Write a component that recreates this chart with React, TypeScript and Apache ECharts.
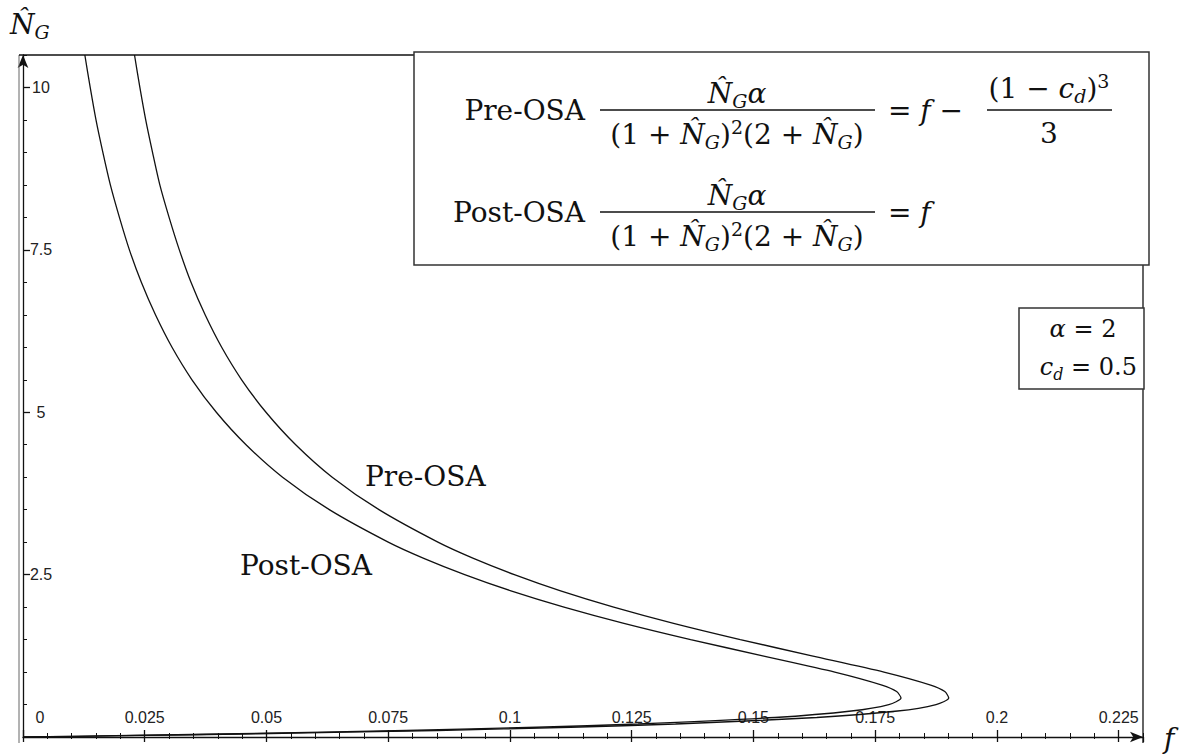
import { useEffect, useRef } from 'react';
import * as echarts from 'echarts';

// Data: N_G (vertical) against f (horizontal)
const nValues = [0, 0.02, 0.05, 0.1, 0.15, 0.2, 0.3, 0.4, 0.5, 0.6, 0.7, 0.8, 1.0, 1.25, 1.5, 1.75, 2, 2.25, 2.5, 2.75, 3, 3.5, 4, 4.5, 5, 5.5, 6, 6.5, 7, 7.5, 8, 8.5, 9, 9.5, 10, 10.5];
const postOsaF = [0, 0.019, 0.0442, 0.0787, 0.1055, 0.1263, 0.1544, 0.1701, 0.1778, 0.1803, 0.1794, 0.1764, 0.1667, 0.1519, 0.1371, 0.1234, 0.1111, 0.1002, 0.0907, 0.0823, 0.075, 0.0629, 0.0533, 0.0458, 0.0397, 0.0347, 0.0306, 0.0272, 0.0243, 0.02185, 0.0198, 0.01794, 0.0164, 0.01499, 0.0138, 0.0127];
const preOsaF = [0, 0.021, 0.048, 0.085, 0.1125, 0.134, 0.163, 0.1796, 0.1875, 0.1901, 0.1893, 0.1864, 0.1768, 0.162, 0.1473, 0.1336, 0.1213, 0.1104, 0.1009, 0.0925, 0.0852, 0.0731, 0.0635, 0.056, 0.0499, 0.0449, 0.0408, 0.0374, 0.0345, 0.0321, 0.03, 0.0281, 0.0266, 0.0252, 0.024, 0.0229];

const seriesNames = ['Pre-OSA', 'Post-OSA'];
const xMax = 0.23;
const yMax = 10.5;
const xMajor = 0.025;
const xMinor = 0.005;
const yMajor = 2.5;
const yMinor = 0.5;

const ink = '#111';
const serif = '"DejaVu Serif", serif';
const sans = '"Liberation Sans", Arial, sans-serif';

const rich: any = {
  rm: { fontFamily: serif, fontSize: 28, lineHeight: 34, fill: ink },
  it: { fontFamily: serif, fontStyle: 'italic', fontSize: 28, lineHeight: 34, fill: ink },
  sub: { fontFamily: serif, fontStyle: 'italic', fontSize: 19, lineHeight: 19, verticalAlign: 'bottom', fill: ink },
  sup: { fontFamily: serif, fontSize: 19, lineHeight: 19, verticalAlign: 'top', fill: ink },
  rs: { fontFamily: serif, fontSize: 24, lineHeight: 30, fill: ink },
  is: { fontFamily: serif, fontStyle: 'italic', fontSize: 24, lineHeight: 30, fill: ink },
  ss: { fontFamily: serif, fontStyle: 'italic', fontSize: 16, lineHeight: 16, verticalAlign: 'bottom', fill: ink },
};

const NG = '{it|N\u0302}{sub|G}';

function txt(x: number, y: number, text: string, align = 'center', vAlign = 'middle', z = 110) {
  return {
    type: 'text',
    x,
    y,
    z,
    style: { text, rich, textAlign: align, textVerticalAlign: vAlign, fill: ink, fontFamily: serif, fontSize: 28 },
  };
}

function hline(x1: number, x2: number, y: number, w = 1.3, color = ink, z = 110) {
  return { type: 'line', z, shape: { x1, y1: y, x2, y2: y }, style: { stroke: color, lineWidth: w } };
}
function vline(x: number, y1: number, y2: number, w = 1.3, color = ink, z = 110) {
  return { type: 'line', z, shape: { x1: x, y1, x2: x, y2 }, style: { stroke: color, lineWidth: w } };
}

const numFmt = (v: number) => {
  if (v === 0) return '{z|0}';
  return String(parseFloat(v.toFixed(3)));
};

export default function App() {
  const ref = useRef<HTMLDivElement>(null);
  useEffect(() => {
    const chart = echarts.init(ref.current as HTMLDivElement, null, { renderer: 'svg' });
    const baseX = { type: 'value', min: 0, max: xMax, position: 'bottom', splitLine: { show: false } };
    const baseY = { type: 'value', min: 0, max: yMax, position: 'left', splitLine: { show: false } };
    const option: any = {
      animation: false,
      backgroundColor: '#fff',
      grid: { left: 23, right: 42, top: 55, bottom: 18, containLabel: false },
      xAxis: [
        {
          ...baseX,
          interval: xMajor,
          axisLine: { show: true, onZero: false, symbol: ['none', 'arrow'], symbolSize: [8, 13], lineStyle: { color: ink, width: 1.3 } },
          axisTick: { show: true, inside: true, length: 7, lineStyle: { color: ink, width: 1.3 } },
          axisLabel: {
            inside: true,
            margin: 12,
            showMaxLabel: false,
            fontSize: 16,
            fontFamily: sans,
            color: '#222',
            formatter: numFmt,
            rich: { z: { fontSize: 16, fontFamily: sans, color: '#222', padding: [0, 0, 0, 34] } },
          },
        },
        {
          ...baseX,
          interval: xMajor,
          axisLine: { show: false },
          axisTick: { show: true, inside: false, length: 5, lineStyle: { color: ink, width: 1.3 } },
          axisLabel: { show: false },
        },
        {
          ...baseX,
          interval: xMinor,
          axisLine: { show: false },
          axisTick: { show: true, inside: true, length: 4, lineStyle: { color: ink, width: 1 } },
          axisLabel: { show: false },
        },
        {
          ...baseX,
          interval: xMinor,
          axisLine: { show: false },
          axisTick: { show: true, inside: false, length: 2, lineStyle: { color: ink, width: 1 } },
          axisLabel: { show: false },
        },
      ],
      yAxis: [
        {
          ...baseY,
          interval: yMajor,
          axisLine: { show: true, onZero: false, symbol: ['none', 'arrow'], symbolSize: [8, 13], lineStyle: { color: ink, width: 1.3 } },
          axisTick: { show: true, inside: true, length: 7, lineStyle: { color: ink, width: 1.3 } },
          axisLabel: {
            inside: true,
            margin: 18,
            align: 'center',
            showMinLabel: false,
            showMaxLabel: false,
            fontSize: 16,
            fontFamily: sans,
            color: '#222',
            formatter: (v: number) => String(v),
          },
        },
        {
          ...baseY,
          interval: yMinor,
          axisLine: { show: false },
          axisTick: { show: true, inside: true, length: 4, lineStyle: { color: ink, width: 1 } },
          axisLabel: { show: false },
        },
      ],
      series: [
        {
          name: seriesNames[0],
          type: 'line',
          xAxisIndex: 0,
          yAxisIndex: 0,
          showSymbol: false,
          smooth: 0.25,
          lineStyle: { color: ink, width: 1.3 },
          data: nValues.map((n, i) => [preOsaF[i], n]),
        },
        {
          name: seriesNames[1],
          type: 'line',
          xAxisIndex: 0,
          yAxisIndex: 0,
          showSymbol: false,
          smooth: 0.25,
          lineStyle: { color: ink, width: 1.3 },
          data: nValues.map((n, i) => [postOsaF[i], n]),
        },
      ],
      graphic: [
        // frame
        vline(19, 55, 743, 1, '#666', 50),
        hline(19, 1143, 55, 1.3, ink, 50),
        vline(1143, 55, 743, 1.3, ink, 50),
        // axis names
        txt(10, 24, NG, 'left', 'middle'),
        txt(1164, 738, '{it|f}', 'left', 'middle'),
        // curve labels
        txt(365, 476, '{rm|Pre-OSA}', 'left', 'middle'),
        txt(240, 565, '{rm|Post-OSA}', 'left', 'middle'),
        // formula box
        {
          type: 'rect',
          z: 100,
          shape: { x: 414, y: 52, width: 735, height: 213 },
          style: { fill: '#fff', stroke: '#333', lineWidth: 1.5 },
        },
        txt(585, 110, '{rm|Pre-OSA}', 'right', 'middle'),
        txt(737, 93, `${NG}{it|α}`, 'center', 'middle'),
        hline(600, 875, 110),
        txt(737, 134, `{rm|(1 + }${NG}{rm|)}{sup|2}{rm|(2 + }${NG}{rm|)}`, 'center', 'middle'),
        txt(888, 110, '{rm|= }{it|f}{rm| −}', 'left', 'middle'),
        txt(1049, 88, '{rm|(1 − }{it|c}{sub|d}{rm|)}{sup|3}', 'center', 'middle'),
        hline(987, 1112, 110),
        txt(1049, 133, '{rm|3}', 'center', 'middle'),
        txt(585, 212, '{rm|Post-OSA}', 'right', 'middle'),
        txt(737, 195, `${NG}{it|α}`, 'center', 'middle'),
        hline(600, 875, 212),
        txt(737, 236, `{rm|(1 + }${NG}{rm|)}{sup|2}{rm|(2 + }${NG}{rm|)}`, 'center', 'middle'),
        txt(888, 212, '{rm|= }{it|f}', 'left', 'middle'),
        // parameter box
        {
          type: 'rect',
          z: 100,
          shape: { x: 1019, y: 308, width: 125, height: 81 },
          style: { fill: '#fff', stroke: '#333', lineWidth: 1.5 },
        },
        txt(1083, 329, '{is|α}{rs| = 2}', 'center', 'middle'),
        txt(1137, 367, '{is|c}{ss|d}{rs| = 0.5}', 'right', 'middle'),
      ],
    };
    chart.setOption(option);
    return () => chart.dispose();
  }, []);
  return (
    <div
      ref={ref}
      style={{ position: 'fixed', left: 0, top: 0, width: 1185, height: 755, background: '#fff' }}
    />
  );
}
